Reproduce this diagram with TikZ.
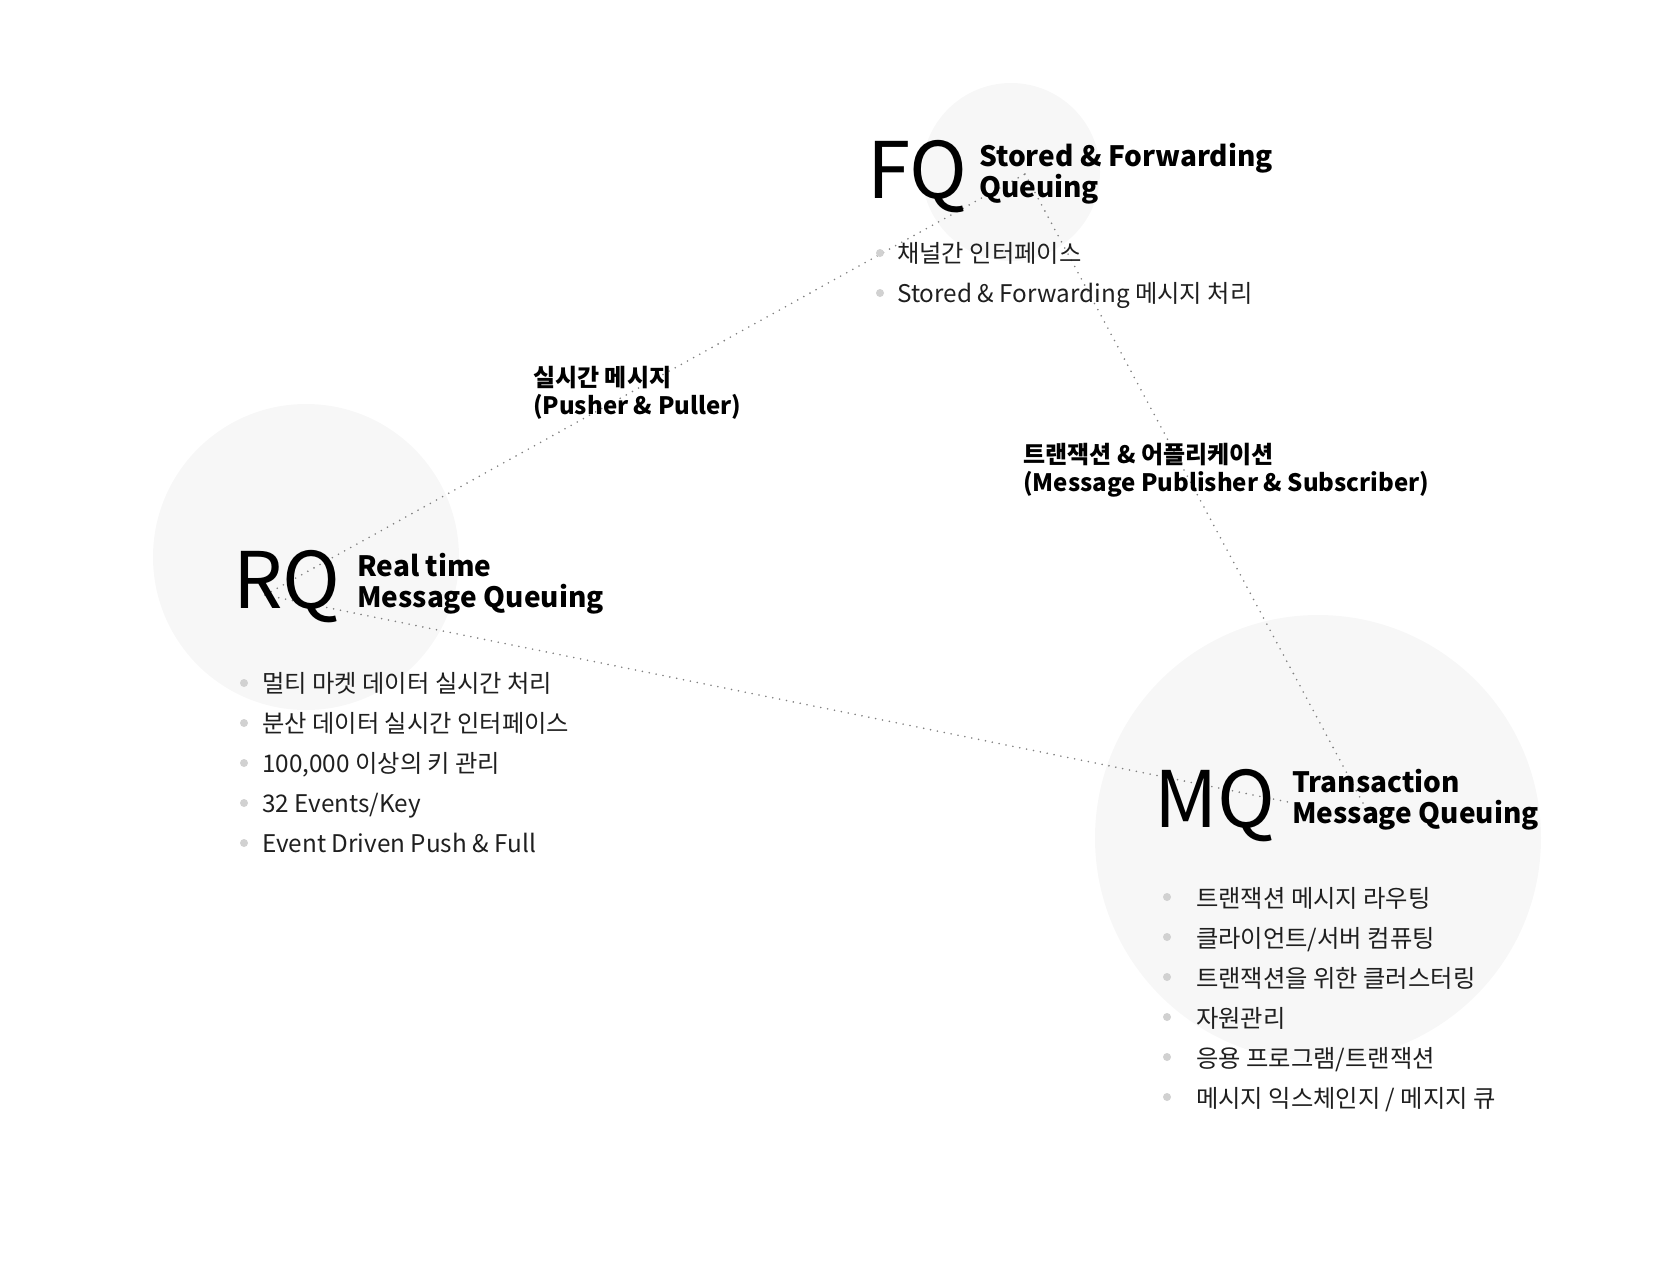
\documentclass[tikz,border=0pt]{standalone}
\usepackage{fontspec}
\setmainfont{Noto Sans CJK KR}
\begin{document}
\begin{tikzpicture}[x=1pt,y=-1pt,line cap=round,line join=round,
  bigq/.style={font=\fontsize{78}{78}\selectfont,inner sep=0pt,anchor=base west},
  qtitle/.style={font=\fontsize{28}{31}\selectfont\bfseries,align=left,inner sep=0pt,anchor=base west},
  item/.style={font=\fontsize{24.3}{24.3}\selectfont,text=black!88,inner sep=0pt,anchor=base west},
  elabel/.style={font=\fontsize{24}{28}\selectfont\bfseries,align=left,inner sep=0pt,anchor=base west},
  bulletdot/.style={fill=black!18},
  link/.style={draw=black!50,line width=1.8pt,dash pattern=on 0pt off 7pt}]
  \useasboundingbox (0,0) rectangle (1668,1286);
  % background circles
  \fill[black!3] (1011,172) circle (89);
  \fill[black!3] (306,557) circle (153);
  \fill[black!3] (1318,838) circle (223);
  % dotted links
  \coordinate (rqhub) at (265,595);
  \coordinate (fqhub) at (1025,174);
  \coordinate (mqhubA) at (1293,803);
  \coordinate (mqhubB) at (1364,805);
  \draw[link] (rqhub) -- (fqhub);
  \draw[link] (rqhub) -- (mqhubA);
  \draw[link] (fqhub) -- (mqhubB);
  % FQ
  \node[bigq] (fq) at (867,198) {FQ};
  \node[qtitle] (fqtitle) at (979,197) {Stored \& Forwarding\\Queuing};
  \foreach \t [count=\i] in {채널간 인터페이스, Stored \& Forwarding 메시지 처리}{
    \fill[bulletdot] (880,213+40*\i) circle (4);
    \node[item] (fqitem\i) at (897,222+40*\i) {\t};
  }
  % RQ
  \node[bigq] (rq) at (233,608) {RQ};
  \node[qtitle] (rqtitle) at (357,607) {Real time\\Message Queuing};
  \foreach \t [count=\i] in {멀티 마켓 데이터 실시간 처리, 분산 데이터 실시간 인터페이스,
    {100,000 이상의 키 관리}, 32 Events/Key, Event Driven Push \& Full}{
    \fill[bulletdot] (244,643+40*\i) circle (4);
    \node[item] (rqitem\i) at (262,652+40*\i) {\t};
  }
  % MQ
  \node[bigq] (mq) at (1154,827) {MQ};
  \node[qtitle] (mqtitle) at (1292,823) {Transaction\\Message Queuing};
  \foreach \t [count=\i] in {트랜잭션 메시지 라우팅, 클라이언트/서버 컴퓨팅, 트랜잭션을 위한 클러스터링,
    자원관리, 응용 프로그램/트랜잭션, 메시지 익스체인지 / 메지지 큐}{
    \fill[bulletdot] (1167,857+40*\i) circle (4);
    \node[item] (mqitem\i) at (1196,867+40*\i) {\t};
  }
  % link labels
  \node[elabel] (rqfqlabel) at (533,414) {실시간 메시지\\(Pusher \& Puller)};
  \node[elabel] (fqmqlabel) at (1023,491) {트랜잭션 \& 어플리케이션\\(Message Publisher \& Subscriber)};
\end{tikzpicture}
\end{document}
